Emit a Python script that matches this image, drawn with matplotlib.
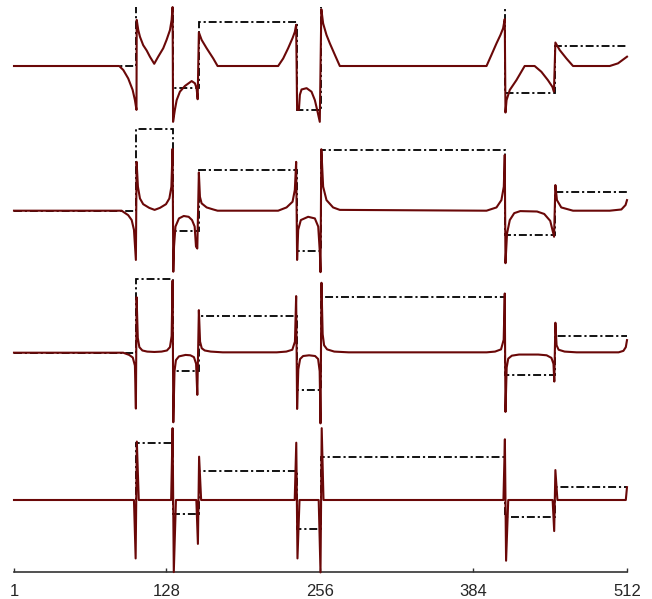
import matplotlib
matplotlib.use("Agg")
from matplotlib import pyplot as plt

# piecewise constant signal: jump locations and levels
edges = [1, 103, 133.5, 155, 237, 257, 410.5, 452, 512]
levels = [0, 2, -0.5, 1, -1, 1.5, -0.6, 0.45]

# responses at four scales (vertices)
r1_x = [1, 88.7, 92.1, 96.2, 99.9, 101.8, 103.1, 103.3, 104.6, 106, 108.7, 111.6, 114.3,
        117.9, 121.2, 125.4, 128.2, 131, 132.4, 133.2,
        133.6, 135.1, 136.6, 139.3, 143.5, 149.1, 151.8, 153.2, 154.1,
        155.1, 157.4, 161.6, 167.1, 170.7, 221.2, 225.4, 229.5, 233.2, 235.1, 236.2,
        237, 238.5, 239.3, 240.7, 244.9, 249.0, 251.8, 253.7, 255.9,
        257.2, 258.7, 261.5, 264.3, 268.5, 272.6, 394.9, 399.0, 403.2, 406.5, 408.7, 410.1,
        410.7, 411.6, 414.3, 419.8, 426.7, 435.0, 440.6, 446.1, 449.8, 451.1,
        452.3, 455.9, 461.5, 467.0, 497.6, 504.5, 511.5, 512]
r1_y = [0, 0, -0.09, -0.28, -0.54, -0.77, -0.99, 1.04, 0.81, 0.66, 0.47, 0.35, 0.21,
        0.05, 0.21, 0.4, 0.59, 0.81, 1.04, 1.33,
        -1.26, -0.99, -0.77, -0.58, -0.45, -0.34, -0.39, -0.5, -0.75,
        0.76, 0.59, 0.4, 0.17, 0, 0, 0.17, 0.4, 0.63, 0.77, 0.93,
        -0.99, -0.99, -0.65, -0.53, -0.5, -0.58, -0.77, -0.99, -1.26,
        1.28, 0.96, 0.7, 0.51, 0.25, 0, 0, 0.25, 0.51, 0.7, 0.85, 1.06,
        -1.05, -0.77, -0.54, -0.32, 0, 0, -0.13, -0.32, -0.47, -0.58,
        0.53, 0.36, 0.17, 0, 0, 0.06, 0.2, 0.21]

r2_x = [1, 90.7, 96.2, 99.1, 101, 102.6, 103.2, 104.3, 106, 108.7, 113.7, 118.2, 122.7,
        127.7, 130.5, 132.2, 133.2, 133.8, 134.4, 135.6, 138.5, 142.5, 146.6, 149.4, 151.6,
        152.7, 153.8, 155.1, 156, 157.4, 161.6, 167.1, 170.7, 221.2, 228.2, 233.2, 235.1,
        236.2, 237, 237.9, 240.1, 246.2, 251.8, 254.6, 256, 256.5, 257.2, 258.7, 261.5,
        267, 272.6, 394.9, 403.2, 407.3, 409.3, 410.1, 410.7, 412, 414.3, 418, 423, 437,
        443, 448, 450.5, 451.2, 452.3, 453.6, 457.2, 467, 497.6, 507.3, 510.8, 512]
r2_y = [0, 0, -0.11, -0.23, -0.47, -1.21, 1.2, 0.59, 0.3, 0.16, 0.07, 0.02, 0.07,
        0.16, 0.3, 0.59, 1.52, -1.5, -0.88, -0.39, -0.19, -0.13, -0.15, -0.23, -0.39,
        -0.88, -0.93, 0.94, 0.34, 0.18, 0.08, 0.03, 0, 0, 0.08, 0.22, 0.51,
        1.2, -1.21, -0.47, -0.23, -0.15, -0.19, -0.39, -1.05, -1.51, 1.51, 0.59, 0.26,
        0.08, 0.02, 0, 0.08, 0.26, 0.59, 1.37, -1.29, -0.56, -0.23, -0.06, -0.01, -0.02,
        -0.08, -0.25, -0.55, -0.64, 0.63, 0.26, 0.08, 0, 0, 0.03, 0.14, 0.26]

r3_x = [1, 92, 97, 100, 101.8, 102.6, 103.2, 104.2, 105.5, 108, 112, 118, 124, 128.5,
        131, 132.4, 133.2, 133.8, 134.8, 136, 138.5, 144, 148, 151, 152.8, 153.8, 155.1,
        156.1, 157.5, 160, 165, 175, 220, 228, 233, 235.2, 236.2, 237, 238, 239.5, 242,
        247, 252, 254.5, 255.8, 256.5, 257.3, 258.3, 259.5, 262, 268, 280, 395, 402, 407,
        409.2, 410.1, 410.7, 411.7, 413, 416, 422, 438, 445, 449, 450.7, 451.4, 452.3,
        453.3, 455, 460, 470, 505, 509, 511, 512]
r3_y = [0, 0, -0.06, -0.13, -0.35, -1.51, 1.5, 0.4, 0.15, 0.06, 0.03, 0.02, 0.03, 0.06,
        0.15, 0.45, 1.95, -1.88, -0.5, -0.2, -0.1, -0.06, -0.07, -0.12, -0.3, -1.14, 1.15,
        0.3, 0.12, 0.06, 0.03, 0.01, 0.01, 0.03, 0.08, 0.3, 1.53, -1.52, -0.45, -0.17, -0.09,
        -0.07, -0.09, -0.17, -0.5, -1.91, 1.89, 0.5, 0.2, 0.09, 0.03, 0.01, 0.01, 0.03, 0.09,
        0.35, 1.6, -1.6, -0.4, -0.16, -0.08, -0.05, -0.05, -0.07, -0.14, -0.3, -0.78, 0.81,
        0.2, 0.08, 0.03, 0.01, 0.01, 0.05, 0.15, 0.34]

r4_x = [1, 101, 102.4, 103.4, 105, 132, 133.2, 134.2, 136, 153, 154.3, 155.3, 157, 235,
        236.3, 237.3, 239, 255, 256.5, 257.5, 259, 409, 410.2, 411.2, 413, 450, 451.3,
        452.3, 454, 511, 512]
r4_y = [0, 0, -2.05, 2.05, 0, 0, 2.52, -2.53, 0, 0, -1.54, 1.52, 0, 0,
        2.01, -2.05, 0, 0, -2.54, 2.52, 0, 0, 2.13, -2.13, 0, 0, -1.09,
        1.05, 0, 0, 0.45]

curves = [(r1_x, r1_y), (r2_x, r2_y), (r3_x, r3_y), (r4_x, r4_y)]
# panel extents in figure pixels (top, bottom) and y limits
panel_px = [(6.5, 126), (126, 275), (275, 426), (426, 572)]
panel_ylim = [(-1.354, 1.343), (-1.580, 2.081), (-1.981, 2.100), (-2.526, 2.596)]

W, H = 652, 599
red = "#6a0808"

fig = plt.figure(figsize=(W / 100, H / 100), dpi=100)
left, right = 14 / W, 627 / W

for k, ((cx, cy), (top, bot), yl) in enumerate(zip(curves, panel_px, panel_ylim)):
    ax = fig.add_axes([left, 1 - bot / H, right - left, (bot - top) / H])
    ax.stairs(levels, edges, baseline=None, color="black", lw=1.3, zorder=2,
              linestyle=(0, (4.4, 1.6, 1.2, 1.6)))
    ax.plot(cx, cy, color=red, lw=1.5, zorder=3, clip_on=False)
    ax.set_xlim(1, 512)
    ax.set_ylim(*yl)
    ax.patch.set_alpha(0)
    for s in ["top", "right", "left"]:
        ax.spines[s].set_visible(False)
    ax.set_yticks([])
    if k < 3:
        ax.spines["bottom"].set_visible(False)
        ax.set_xticks([])
    else:
        ax.spines["bottom"].set_color("#333333")
        ax.spines["bottom"].set_linewidth(1.2)
        ax.set_xticks([1, 128, 256, 384, 512])
        ax.tick_params(axis="x", direction="in", length=3, width=1, color="#333333",
                       pad=8.5, labelsize=12, labelcolor="#262626")
        for t in ax.get_xticklabels():
            t.set_family("Liberation Sans")

fig.savefig("out.png", dpi=100)
